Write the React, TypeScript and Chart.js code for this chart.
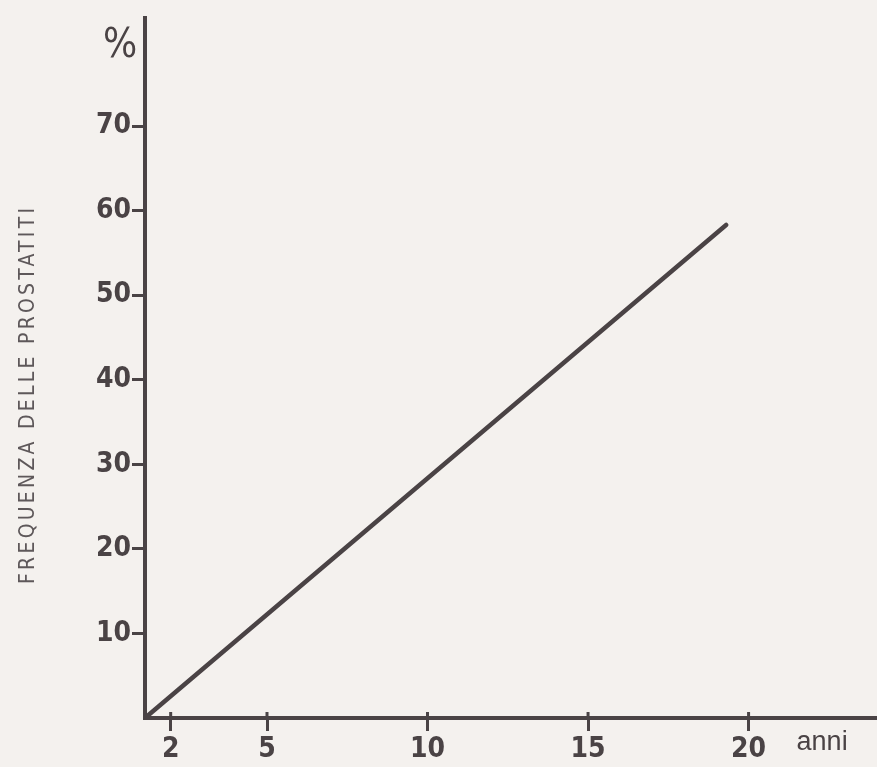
import React, { useEffect, useRef } from "react";
import { Chart, registerables } from "chart.js";

Chart.register(...registerables);

const lineX = [1.2, 19.3];
const lineY = [0, 58.3];
const xTickValues = [2, 5, 10, 15, 20];
const yTickValues = [10, 20, 30, 40, 50, 60, 70];
const yTitle = "FREQUENZA DELLE PROSTATITI";
const yUnit = "%";
const xUnit = "anni";

const INK = "#4a4345";
const PAPER = "#f4f1ee";
const NARROW = "'Liberation Sans Narrow', 'DejaVu Sans Condensed', 'Liberation Sans', sans-serif";

export default function App() {
  const ref = useRef<HTMLCanvasElement | null>(null);

  useEffect(() => {
    if (!ref.current) return;
    const labelsPlugin = {
      id: "extraLabels",
      afterDraw(chart: any) {
        const ctx = chart.ctx as CanvasRenderingContext2D;
        const xs = chart.scales.x;
        const ys = chart.scales.y;
        const area = chart.chartArea;
        ctx.save();
        // upper part of x tick marks (crossing the axis)
        ctx.strokeStyle = INK;
        ctx.lineWidth = 3;
        xTickValues.forEach((v) => {
          const px = xs.getPixelForValue(v);
          ctx.beginPath();
          ctx.moveTo(px, area.bottom - 6);
          ctx.lineTo(px, area.bottom);
          ctx.stroke();
        });
        // % unit
        ctx.fillStyle = INK;
        ctx.font = `normal 40px ${NARROW}`;
        ctx.textAlign = "center";
        ctx.textBaseline = "middle";
        ctx.fillText(yUnit, ys.left + 120, 47);
        // anni
        ctx.font = `normal 27px 'Liberation Sans', sans-serif`;
        ctx.textAlign = "left";
        ctx.fillText(xUnit, xs.getPixelForValue(20) + 48, 743);
        // rotated y title
        ctx.translate(29, 396);
        ctx.rotate(-Math.PI / 2);
        ctx.font = `normal 21px 'DejaVu Sans Condensed', 'Liberation Sans', sans-serif`;
        const w = ctx.measureText(yTitle).width;
        const spacing = Math.max(0, (376 - w) / (yTitle.length - 1));
        (ctx as any).letterSpacing = spacing.toFixed(2) + "px";
        ctx.fillStyle = "#5e585a";
        ctx.textAlign = "center";
        ctx.fillText(yTitle, spacing / 2, 0);
        ctx.restore();
      },
    };

    const chart = new Chart(ref.current, {
      type: "scatter",
      data: {
        datasets: [
          {
            data: lineX.map((x, i) => ({ x, y: lineY[i] })),
            showLine: true,
            borderColor: INK,
            borderWidth: 4.5,
            borderCapStyle: "round",
            pointRadius: 0,
            fill: false,
          },
        ],
      },
      options: {
        responsive: false,
        animation: false,
        layout: { padding: { top: 10, right: 0, left: 0, bottom: 0 } },
        plugins: { legend: { display: false }, tooltip: { enabled: false } },
        scales: {
          x: {
            type: "linear",
            min: 1.2,
            max: 24,
            afterBuildTicks: (s: any) => {
              s.ticks = xTickValues.map((v) => ({ value: v }));
            },
            afterFit: (s: any) => {
              s.height = 49;
            },
            grid: {
              drawOnChartArea: false,
              drawTicks: true,
              tickLength: 13,
              tickWidth: 3,
              tickColor: INK,
            },
            border: { display: true, color: INK, width: 4 },
            ticks: {
              color: INK,
              padding: 2,
              maxRotation: 0,
              autoSkip: false,
              font: { family: NARROW, size: 28, weight: "bold" },
            },
          },
          y: {
            type: "linear",
            min: 0,
            max: 82.8,
            afterBuildTicks: (s: any) => {
              s.ticks = yTickValues.map((v) => ({ value: v }));
            },
            afterFit: (s: any) => {
              s.width = 145;
            },
            grid: {
              drawOnChartArea: false,
              drawTicks: true,
              tickLength: 13,
              tickWidth: 3,
              tickColor: INK,
            },
            border: { display: true, color: INK, width: 4 },
            ticks: {
              color: INK,
              padding: 1,
              autoSkip: false,
              font: { family: NARROW, size: 28, weight: "bold" },
            },
          },
        },
      },
      plugins: [labelsPlugin],
    } as any);
    return () => chart.destroy();
  }, []);

  return (
    <div style={{ position: "fixed", left: 0, top: 0, width: 877, height: 767, background: PAPER }}>
      <canvas ref={ref} width={877} height={767} style={{ width: 877, height: 767, display: "block" }} />
    </div>
  );
}
